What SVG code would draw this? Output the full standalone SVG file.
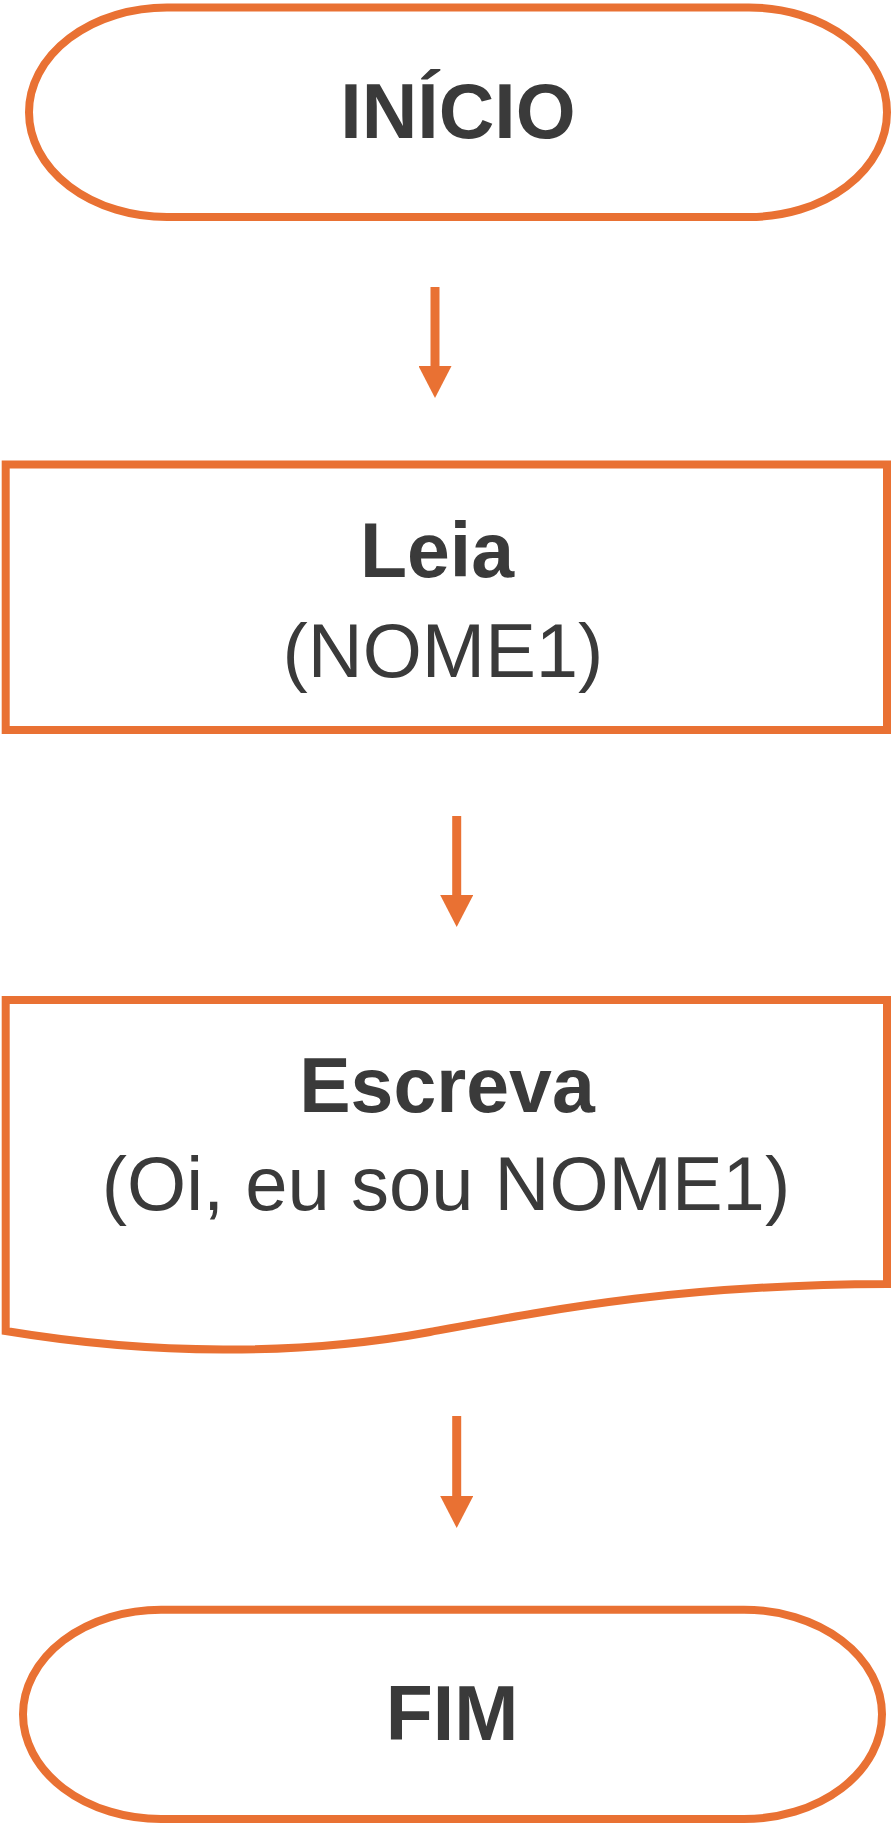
<svg xmlns="http://www.w3.org/2000/svg" width="893" height="1824" viewBox="0 0 893 1824">
  <style>
    .shape { fill: #ffffff; stroke: #E97133; stroke-width: 8; }
    .conn { stroke: #E97133; stroke-width: 9; fill: none; }
    .bold { font-family: "Liberation Sans", Arial, sans-serif; font-weight: bold; font-size: 77px; fill: #3A3A3A; text-anchor: middle; }
    .reg { font-family: "Liberation Sans", Arial, sans-serif; font-weight: normal; font-size: 76px; fill: #3A3A3A; text-anchor: middle; }
  </style>
  <defs>
    <marker id="arrow" markerUnits="userSpaceOnUse" markerWidth="32" markerHeight="33" viewBox="0 0 32 33" refX="0" refY="16.5" orient="auto">
      <path d="M0,0 L32,16.5 L0,33 Z" fill="#E97133"/>
    </marker>
  </defs>
  <rect width="893" height="1824" fill="#ffffff"/>

  <g id="inicio">
    <rect class="shape" x="29" y="7.5" width="858" height="209.5" rx="138" ry="104.75"/>
    <text class="bold" x="458" y="138">INÍCIO</text>
  </g>

  <g id="leia">
    <rect class="shape" x="5.7" y="464.5" width="881.3" height="265.5"/>
    <text class="bold" x="437" y="577">Leia</text>
    <text class="reg" x="443" y="677">(NOME1)</text>
  </g>

  <g id="escreva">
    <path class="shape" d="M5.7,1000 H887 V1284 C680,1285 560,1308 430,1332 C300,1356 150,1355 5.7,1331 Z"/>
    <text class="bold" x="447" y="1112">Escreva</text>
    <text class="reg" x="446" y="1210">(Oi, eu sou NOME1)</text>
  </g>

  <g id="fim">
    <rect class="shape" x="23" y="1609.7" width="859" height="209.3" rx="138" ry="104.65"/>
    <text class="bold" x="452" y="1740">FIM</text>
  </g>

  <g id="connectors">
    <line class="conn" x1="435" y1="287" x2="435" y2="366" marker-end="url(#arrow)"/>
    <line class="conn" x1="456.7" y1="816" x2="456.7" y2="895" marker-end="url(#arrow)"/>
    <line class="conn" x1="456.7" y1="1416" x2="456.7" y2="1496" marker-end="url(#arrow)"/>
  </g>
</svg>
